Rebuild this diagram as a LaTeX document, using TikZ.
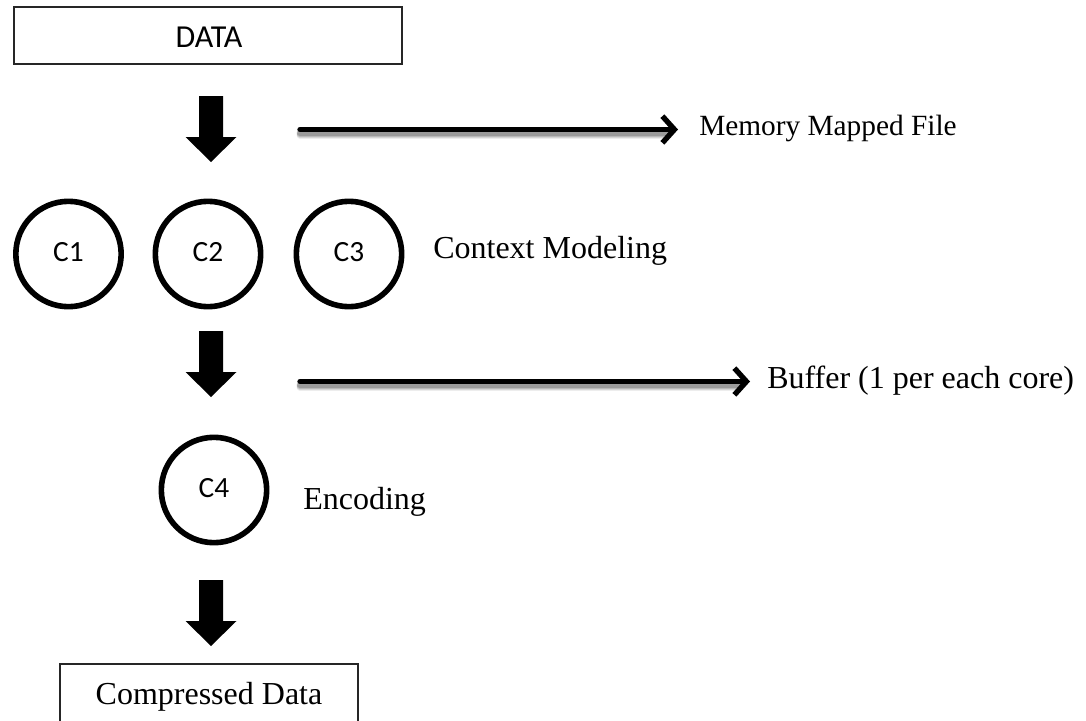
\documentclass[tikz,border=0pt]{standalone}
\usepackage{fontspec}
\setmainfont{Liberation Serif}
\newfontfamily\calfont{Carlito}
\usetikzlibrary{arrows.meta}

% solid down-pointing block arrow: #1 = centre x, #2 = top y (px units)
\newcommand\downblock[2]{%
  \fill[black] (#1-12,#2) -- (#1+12,#2) -- (#1+12,#2+41) -- (#1+25.5,#2+41)
    -- (#1,#2+66) -- (#1-25.5,#2+41) -- (#1-12,#2+41) -- cycle;}

\tikzset{
  box/.style={draw=black!85, line width=1.1pt, fill=white, inner sep=0pt},
  core/.style={circle, draw=black, line width=4.2pt, minimum size=79pt,
    inner sep=0pt, font=\calfont\fontsize{22pt}{26pt}\selectfont},
  label/.style={anchor=base west, inner sep=0pt,
    font=\fontsize{24pt}{28pt}\selectfont},
  flow/.style={line width=4pt, line cap=round,
    -{Straight Barb[length=9pt,width=20pt,line width=4pt]}},
  flowshadow/.style={line width=5pt, line cap=round, black, opacity=#1},
}

\begin{document}
\begin{tikzpicture}[x=0.75pt, y=-0.75pt]
\useasboundingbox (0,0) rectangle (1086,721);

% input and output boxes
\draw[box] (14,7) rectangle (402,64);
\node[inner sep=0pt, font=\calfont\fontsize{24pt}{28pt}\selectfont] (data) at (209,37) {DATA};
\draw[box] (60,664) rectangle (358,740);
\node[label, anchor=base] (out) at (209,704) {Compressed Data};

% processing cores
\node[core] (c1) at (68.5,254) {\raisebox{3pt}{C1}};
\node[core] (c2) at (208,254) {\raisebox{3pt}{C2}};
\node[core] (c3) at (349,254) {\raisebox{3pt}{C3}};
\node[core] (c4) at (214,490) {\raisebox{3pt}{C4}};

\node[label] (ctx) at (433,258) {Context Modeling};
\node[label] (enc) at (303,509) {Encoding};

% stage arrows
\downblock{211}{96}
\downblock{211}{331}
\downblock{211}{580}

% side annotations with soft shadows
\coordinate (m0) at (300,129.5);
\coordinate (m1) at (678,129.5);
\coordinate (b0) at (300,381.5);
\coordinate (b1) at (750,381.5);
\node[label, anchor=west, font=\fontsize{22pt}{26pt}\selectfont] (mmf) at (699,128) {Memory Mapped File};
\node[label, anchor=west] (buf) at (767,381) {Buffer (1 per each core)};

\foreach \s/\o in {6/0.07, 5/0.1, 4/0.13, 3/0.16}{
  \draw[flowshadow=\o] ([yshift=-\s*0.75pt]m0) -- ([yshift=-\s*0.75pt, xshift=-8pt]m1);
  \draw[flowshadow=\o] ([yshift=-\s*0.75pt]b0) -- ([yshift=-\s*0.75pt, xshift=-8pt]b1);
}
\draw[flow] (m0) -- (m1);
\draw[flow] (b0) -- (b1);
\end{tikzpicture}
\end{document}
